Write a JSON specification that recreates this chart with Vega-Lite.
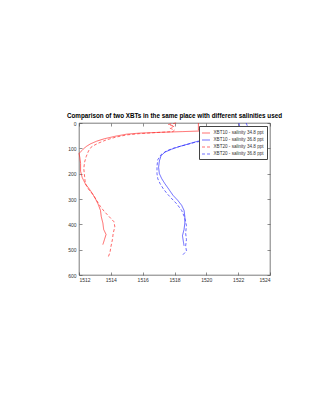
{
  "$schema": "https://vega.github.io/schema/vega-lite/v6.json",
  "autosize": "none",
  "width": 191,
  "height": 152,
  "padding": {"left": 79, "top": 123, "right": 63, "bottom": 119},
  "background": "white",
  "title": {
    "text": "Comparison of two XBTs in the same place with different salinities used",
    "font": "Liberation Sans",
    "fontSize": 6.3,
    "fontWeight": "bold",
    "color": "black",
    "offset": 2,
    "anchor": "middle"
  },
  "config": {
    "view": {"stroke": "#444", "strokeWidth": 0.7},
    "axis": {
      "labelFont": "Liberation Sans",
      "labelFontSize": 5,
      "labelColor": "#333",
      "domain": false,
      "grid": false,
      "tickColor": "#444",
      "tickWidth": 0.6,
      "tickSize": -3,
      "title": null
    }
  },
  "data": {"values": [
    {"series": "XBT10 - salinity 34.8 ppt", "speed": 1519.5, "depth": 0},
    {"series": "XBT10 - salinity 34.8 ppt", "speed": 1519.5, "depth": 28},
    {"series": "XBT10 - salinity 34.8 ppt", "speed": 1519.9, "depth": 31},
    {"series": "XBT10 - salinity 34.8 ppt", "speed": 1518.5, "depth": 34},
    {"series": "XBT10 - salinity 34.8 ppt", "speed": 1517.0, "depth": 37},
    {"series": "XBT10 - salinity 34.8 ppt", "speed": 1515.8, "depth": 40},
    {"series": "XBT10 - salinity 34.8 ppt", "speed": 1515.0, "depth": 44},
    {"series": "XBT10 - salinity 34.8 ppt", "speed": 1514.3, "depth": 52},
    {"series": "XBT10 - salinity 34.8 ppt", "speed": 1513.6, "depth": 62},
    {"series": "XBT10 - salinity 34.8 ppt", "speed": 1513.1, "depth": 72},
    {"series": "XBT10 - salinity 34.8 ppt", "speed": 1512.7, "depth": 83},
    {"series": "XBT10 - salinity 34.8 ppt", "speed": 1512.4, "depth": 95},
    {"series": "XBT10 - salinity 34.8 ppt", "speed": 1512.2, "depth": 108},
    {"series": "XBT10 - salinity 34.8 ppt", "speed": 1512.0, "depth": 120},
    {"series": "XBT10 - salinity 34.8 ppt", "speed": 1512.05, "depth": 135},
    {"series": "XBT10 - salinity 34.8 ppt", "speed": 1512.1, "depth": 160},
    {"series": "XBT10 - salinity 34.8 ppt", "speed": 1512.1, "depth": 190},
    {"series": "XBT10 - salinity 34.8 ppt", "speed": 1512.2, "depth": 215},
    {"series": "XBT10 - salinity 34.8 ppt", "speed": 1512.4, "depth": 240},
    {"series": "XBT10 - salinity 34.8 ppt", "speed": 1512.7, "depth": 265},
    {"series": "XBT10 - salinity 34.8 ppt", "speed": 1513.0, "depth": 295},
    {"series": "XBT10 - salinity 34.8 ppt", "speed": 1513.2, "depth": 320},
    {"series": "XBT10 - salinity 34.8 ppt", "speed": 1513.35, "depth": 345},
    {"series": "XBT10 - salinity 34.8 ppt", "speed": 1513.4, "depth": 370},
    {"series": "XBT10 - salinity 34.8 ppt", "speed": 1513.5, "depth": 395},
    {"series": "XBT10 - salinity 34.8 ppt", "speed": 1513.55, "depth": 420},
    {"series": "XBT10 - salinity 34.8 ppt", "speed": 1513.7, "depth": 440},
    {"series": "XBT10 - salinity 34.8 ppt", "speed": 1513.6, "depth": 460},
    {"series": "XBT10 - salinity 34.8 ppt", "speed": 1513.5, "depth": 480},

    {"series": "XBT10 - salinity 36.8 ppt", "speed": 1522.05, "depth": 0},
    {"series": "XBT10 - salinity 36.8 ppt", "speed": 1522.1, "depth": 15},
    {"series": "XBT10 - salinity 36.8 ppt", "speed": 1521.8, "depth": 30},
    {"series": "XBT10 - salinity 36.8 ppt", "speed": 1521.0, "depth": 48},
    {"series": "XBT10 - salinity 36.8 ppt", "speed": 1520.2, "depth": 62},
    {"series": "XBT10 - salinity 36.8 ppt", "speed": 1519.4, "depth": 73},
    {"series": "XBT10 - salinity 36.8 ppt", "speed": 1518.8, "depth": 84},
    {"series": "XBT10 - salinity 36.8 ppt", "speed": 1518.3, "depth": 93},
    {"series": "XBT10 - salinity 36.8 ppt", "speed": 1517.8, "depth": 104},
    {"series": "XBT10 - salinity 36.8 ppt", "speed": 1517.4, "depth": 115},
    {"series": "XBT10 - salinity 36.8 ppt", "speed": 1517.15, "depth": 130},
    {"series": "XBT10 - salinity 36.8 ppt", "speed": 1517.05, "depth": 150},
    {"series": "XBT10 - salinity 36.8 ppt", "speed": 1517.0, "depth": 175},
    {"series": "XBT10 - salinity 36.8 ppt", "speed": 1517.05, "depth": 200},
    {"series": "XBT10 - salinity 36.8 ppt", "speed": 1517.2, "depth": 220},
    {"series": "XBT10 - salinity 36.8 ppt", "speed": 1517.4, "depth": 240},
    {"series": "XBT10 - salinity 36.8 ppt", "speed": 1517.65, "depth": 262},
    {"series": "XBT10 - salinity 36.8 ppt", "speed": 1517.9, "depth": 285},
    {"series": "XBT10 - salinity 36.8 ppt", "speed": 1518.2, "depth": 305},
    {"series": "XBT10 - salinity 36.8 ppt", "speed": 1518.45, "depth": 325},
    {"series": "XBT10 - salinity 36.8 ppt", "speed": 1518.6, "depth": 345},
    {"series": "XBT10 - salinity 36.8 ppt", "speed": 1518.65, "depth": 370},
    {"series": "XBT10 - salinity 36.8 ppt", "speed": 1518.65, "depth": 395},
    {"series": "XBT10 - salinity 36.8 ppt", "speed": 1518.6, "depth": 420},
    {"series": "XBT10 - salinity 36.8 ppt", "speed": 1518.5, "depth": 445},
    {"series": "XBT10 - salinity 36.8 ppt", "speed": 1518.55, "depth": 465},
    {"series": "XBT10 - salinity 36.8 ppt", "speed": 1518.6, "depth": 485},

    {"series": "XBT20 - salinity 34.8 ppt", "speed": 1518.1, "depth": 0},
    {"series": "XBT20 - salinity 34.8 ppt", "speed": 1517.6, "depth": 6},
    {"series": "XBT20 - salinity 34.8 ppt", "speed": 1518.0, "depth": 12},
    {"series": "XBT20 - salinity 34.8 ppt", "speed": 1517.7, "depth": 20},
    {"series": "XBT20 - salinity 34.8 ppt", "speed": 1518.0, "depth": 28},
    {"series": "XBT20 - salinity 34.8 ppt", "speed": 1517.9, "depth": 34},
    {"series": "XBT20 - salinity 34.8 ppt", "speed": 1516.8, "depth": 38},
    {"series": "XBT20 - salinity 34.8 ppt", "speed": 1515.8, "depth": 42},
    {"series": "XBT20 - salinity 34.8 ppt", "speed": 1515.0, "depth": 47},
    {"series": "XBT20 - salinity 34.8 ppt", "speed": 1514.3, "depth": 56},
    {"series": "XBT20 - salinity 34.8 ppt", "speed": 1513.7, "depth": 67},
    {"series": "XBT20 - salinity 34.8 ppt", "speed": 1513.2, "depth": 80},
    {"series": "XBT20 - salinity 34.8 ppt", "speed": 1512.8, "depth": 93},
    {"series": "XBT20 - salinity 34.8 ppt", "speed": 1512.6, "depth": 110},
    {"series": "XBT20 - salinity 34.8 ppt", "speed": 1512.45, "depth": 133},
    {"series": "XBT20 - salinity 34.8 ppt", "speed": 1512.35, "depth": 155},
    {"series": "XBT20 - salinity 34.8 ppt", "speed": 1512.3, "depth": 180},
    {"series": "XBT20 - salinity 34.8 ppt", "speed": 1512.35, "depth": 210},
    {"series": "XBT20 - salinity 34.8 ppt", "speed": 1512.4, "depth": 240},
    {"series": "XBT20 - salinity 34.8 ppt", "speed": 1512.6, "depth": 262},
    {"series": "XBT20 - salinity 34.8 ppt", "speed": 1512.85, "depth": 280},
    {"series": "XBT20 - salinity 34.8 ppt", "speed": 1513.1, "depth": 305},
    {"series": "XBT20 - salinity 34.8 ppt", "speed": 1513.35, "depth": 330},
    {"series": "XBT20 - salinity 34.8 ppt", "speed": 1513.6, "depth": 350},
    {"series": "XBT20 - salinity 34.8 ppt", "speed": 1513.9, "depth": 370},
    {"series": "XBT20 - salinity 34.8 ppt", "speed": 1514.2, "depth": 390},
    {"series": "XBT20 - salinity 34.8 ppt", "speed": 1514.25, "depth": 410},
    {"series": "XBT20 - salinity 34.8 ppt", "speed": 1514.15, "depth": 435},
    {"series": "XBT20 - salinity 34.8 ppt", "speed": 1514.1, "depth": 460},
    {"series": "XBT20 - salinity 34.8 ppt", "speed": 1514.0, "depth": 490},
    {"series": "XBT20 - salinity 34.8 ppt", "speed": 1513.95, "depth": 510},
    {"series": "XBT20 - salinity 34.8 ppt", "speed": 1513.85, "depth": 527},

    {"series": "XBT20 - salinity 36.8 ppt", "speed": 1522.5, "depth": 0},
    {"series": "XBT20 - salinity 36.8 ppt", "speed": 1522.6, "depth": 15},
    {"series": "XBT20 - salinity 36.8 ppt", "speed": 1522.2, "depth": 35},
    {"series": "XBT20 - salinity 36.8 ppt", "speed": 1521.2, "depth": 55},
    {"series": "XBT20 - salinity 36.8 ppt", "speed": 1520.0, "depth": 68},
    {"series": "XBT20 - salinity 36.8 ppt", "speed": 1519.3, "depth": 76},
    {"series": "XBT20 - salinity 36.8 ppt", "speed": 1518.6, "depth": 88},
    {"series": "XBT20 - salinity 36.8 ppt", "speed": 1518.0, "depth": 98},
    {"series": "XBT20 - salinity 36.8 ppt", "speed": 1517.5, "depth": 110},
    {"series": "XBT20 - salinity 36.8 ppt", "speed": 1517.15, "depth": 125},
    {"series": "XBT20 - salinity 36.8 ppt", "speed": 1516.95, "depth": 145},
    {"series": "XBT20 - salinity 36.8 ppt", "speed": 1516.9, "depth": 170},
    {"series": "XBT20 - salinity 36.8 ppt", "speed": 1516.9, "depth": 200},
    {"series": "XBT20 - salinity 36.8 ppt", "speed": 1516.95, "depth": 220},
    {"series": "XBT20 - salinity 36.8 ppt", "speed": 1517.1, "depth": 240},
    {"series": "XBT20 - salinity 36.8 ppt", "speed": 1517.3, "depth": 260},
    {"series": "XBT20 - salinity 36.8 ppt", "speed": 1517.55, "depth": 280},
    {"series": "XBT20 - salinity 36.8 ppt", "speed": 1517.85, "depth": 300},
    {"series": "XBT20 - salinity 36.8 ppt", "speed": 1518.15, "depth": 320},
    {"series": "XBT20 - salinity 36.8 ppt", "speed": 1518.45, "depth": 345},
    {"series": "XBT20 - salinity 36.8 ppt", "speed": 1518.65, "depth": 375},
    {"series": "XBT20 - salinity 36.8 ppt", "speed": 1518.75, "depth": 405},
    {"series": "XBT20 - salinity 36.8 ppt", "speed": 1518.7, "depth": 435},
    {"series": "XBT20 - salinity 36.8 ppt", "speed": 1518.75, "depth": 460},
    {"series": "XBT20 - salinity 36.8 ppt", "speed": 1518.7, "depth": 485},
    {"series": "XBT20 - salinity 36.8 ppt", "speed": 1518.75, "depth": 505},
    {"series": "XBT20 - salinity 36.8 ppt", "speed": 1518.5, "depth": 522}
  ]},
  "layer": [
    {
      "mark": {"type": "line", "strokeWidth": 0.75, "opacity": 0.9},
      "encoding": {
        "x": {"field": "speed", "type": "quantitative",
              "scale": {"domain": [1512, 1524], "nice": false, "zero": false},
              "axis": {"orient": "bottom", "values": [1512, 1514, 1516, 1518, 1520, 1522, 1524], "labelPadding": 5, "format": "d"}},
        "y": {"field": "depth", "type": "quantitative",
              "scale": {"domain": [0, 600], "reverse": true, "nice": false},
              "axis": {"orient": "left", "values": [0, 100, 200, 300, 400, 500, 600], "labelPadding": 6}},
        "order": {"field": "depth", "type": "quantitative"},
        "color": {"field": "series", "type": "nominal",
                  "scale": {"domain": ["XBT10 - salinity 34.8 ppt", "XBT10 - salinity 36.8 ppt", "XBT20 - salinity 34.8 ppt", "XBT20 - salinity 36.8 ppt"],
                            "range": ["#ff2020", "#2020ff", "#ff2020", "#2020ff"]},
                  "legend": {
                    "title": null, "orient": "top-right", "offset": 3,
                    "symbolType": "stroke", "symbolSize": 64, "symbolStrokeWidth": 0.7,
                    "labelFont": "Liberation Sans", "labelFontSize": 4.6, "labelColor": "#333",
                    "rowPadding": -2, "padding": 2.5, "fillColor": "white",
                    "strokeColor": "#444", "labelOffset": 3, "symbolOffset": 0
                  }},
        "strokeDash": {"field": "series", "type": "nominal",
                  "scale": {"domain": ["XBT10 - salinity 34.8 ppt", "XBT10 - salinity 36.8 ppt", "XBT20 - salinity 34.8 ppt", "XBT20 - salinity 36.8 ppt"],
                            "range": [[1, 0], [1, 0], [3, 2], [3, 2]]}}
      }
    },
    {
      "mark": {"type": "line", "opacity": 0},
      "encoding": {
        "x": {"field": "speed", "type": "quantitative",
              "axis": {"orient": "top", "values": [1512, 1514, 1516, 1518, 1520, 1522, 1524], "labels": false}},
        "y": {"field": "depth", "type": "quantitative",
              "axis": {"orient": "right", "values": [0, 100, 200, 300, 400, 500, 600], "labels": false}}
      }
    }
  ],
  "resolve": {"axis": {"x": "independent", "y": "independent"}}
}
